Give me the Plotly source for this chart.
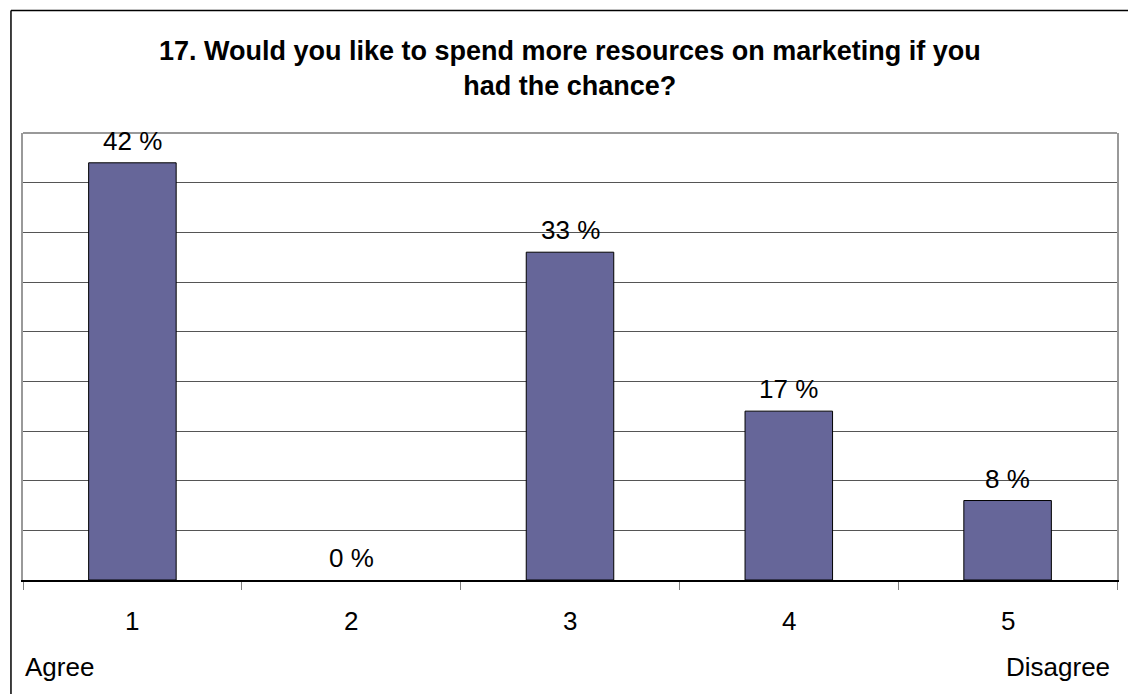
import plotly.graph_objects as go

# Survey question 17: share of answers per scale point (1 = Agree, 5 = Disagree)
categories = ["1", "2", "3", "4", "5"]
percent = [42, 0, 33, 17, 8]
scale_left = "Agree"
scale_right = "Disagree"
title_text = "17. Would you like to spend more resources on marketing if you<br>had the chance?"

FONT = "Liberation Sans, Arial, sans-serif"
FS = 26

fig = go.Figure()
fig.add_trace(go.Bar(
    x=categories,
    y=percent,
    width=0.4,
    marker=dict(color="#666699",
                line=dict(color="#000000", width=[1 if v > 0 else 0 for v in percent])),
    hoverinfo="skip",
))

# value labels above each bar (category index positions)
for i, v in enumerate(percent):
    fig.add_annotation(
        x=i, y=v, text=f"{v} %", showarrow=False,
        yanchor="bottom", yshift=5,
        font=dict(family=FONT, size=FS, color="#000000"),
    )

# category labels under the axis
for i, c in enumerate(categories):
    fig.add_annotation(
        x=i, y=0, yref="paper", text=c, showarrow=False,
        yanchor="top", yshift=-24,
        font=dict(family=FONT, size=FS, color="#000000"),
    )

# scale end captions
fig.add_annotation(
    x=0.0, xref="paper", y=0, yref="paper", text=scale_left, showarrow=False,
    xanchor="left", yanchor="top", yshift=-70, xshift=0,
    font=dict(family=FONT, size=FS, color="#000000"),
)
fig.add_annotation(
    x=1.0, xref="paper", y=0, yref="paper", text=scale_right, showarrow=False,
    xanchor="right", yanchor="top", yshift=-70, xshift=-5,
    font=dict(family=FONT, size=FS, color="#000000"),
)

# chart title
fig.add_annotation(
    x=0.5, xref="paper", y=1.1443, yref="paper",
    text=f"<b>{title_text}</b>", showarrow=False,
    xanchor="center", yanchor="middle",
    font=dict(family=FONT, size=27, color="#000000"),
)

fig.update_layout(
    width=1128, height=694,
    margin=dict(l=23, r=9, t=133, b=114),
    paper_bgcolor="#ffffff",
    plot_bgcolor="#ffffff",
    showlegend=False,
    bargap=0.6,
    shapes=[
        # outer frame (left and top edges)
        dict(type="line", xref="paper", yref="paper",
             x0=-0.011, x1=-0.011, y0=-0.26, y1=1.274,
             line=dict(color="#000000", width=1.5)),
        dict(type="line", xref="paper", yref="paper",
             x0=-0.011, x1=1.02, y0=1.274, y1=1.274,
             line=dict(color="#000000", width=1.5)),
        # top edge of the plot area
        dict(type="line", xref="paper", yref="paper",
             x0=0, x1=1, y0=1, y1=1,
             line=dict(color="#999999", width=2)),
    ],
)

fig.update_xaxes(
    type="category",
    range=[-0.5, len(categories) - 0.5],
    tickson="boundaries",
    ticks="outside", ticklen=8, tickcolor="#808080", tickwidth=1,
    showticklabels=False,
    showline=True, linecolor="#000000", linewidth=1.5,
    showgrid=False, zeroline=False,
    fixedrange=True,
)
fig.update_yaxes(
    range=[0, 45], dtick=5,
    showticklabels=False, ticks="",
    showgrid=True, gridcolor="#555555", gridwidth=1,
    showline=True, linecolor="#999999", linewidth=2, mirror=True,
    zeroline=False,
    fixedrange=True,
)

fig.write_html("out.html")
